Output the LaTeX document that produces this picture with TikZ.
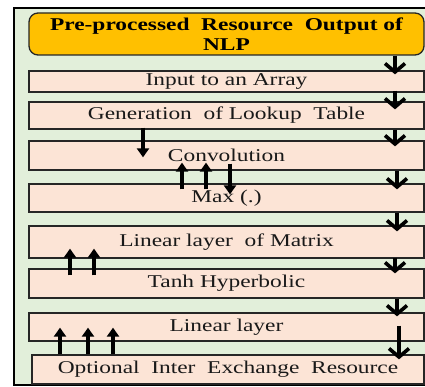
\documentclass[tikz,border=0pt]{standalone}
\usepackage{fontspec}
\setmainfont{Liberation Serif}[FakeStretch=1.3]
\usetikzlibrary{arrows.meta,calc}
\definecolor{panelgreen}{HTML}{E2EFDA}
\definecolor{boxpink}{HTML}{FCE4D6}
\definecolor{titlegold}{HTML}{FFC000}
\begin{document}
\begin{tikzpicture}[x=1pt,y=-1pt,
  box/.style={draw=black!85, line width=1.3pt, fill=boxpink, inner sep=0pt,
    minimum width=395pt, font=\fontsize{18}{20}\selectfont, text=black!90},
  flowarrow/.style={line width=3.4pt,
    -{Straight Barb[length=8.5pt,width=20pt,line width=3.6pt]}},
  linkarrow/.style={line width=3.5pt, -{Triangle[length=9pt,width=12pt]}},
]
\clip (0,0) rectangle (425,387);
% panel
\draw[line width=2.5pt, fill=panelgreen] (14,8) rectangle (445,385);

% title
\node[draw=black!85, line width=1.3pt, fill=titlegold, rounded corners=9pt,
  minimum width=395pt, minimum height=42pt, inner sep=0pt, align=center,
  font=\bfseries\fontsize{18}{20}\selectfont] (title) at (226.5,34)
  {Pre-processed\ \ Resource\ \ Output of\\NLP};

% processing stages
\node[box, minimum height=21pt] (b1) at (226.5,81.5) {Input to an Array};
\node[box, minimum height=27pt] (b2) at (226.5,115.5) {Generation\ \ of Lookup\ \ Table};
\node[box, minimum height=29pt] (b3) at (226.5,155.5) {Convolution};
\node[box, minimum height=28pt] (b4) at (226.5,198) {Max (.)};
\node[box, minimum height=32pt] (b5) at (226.5,242) {Linear layer\ \ of Matrix};
\node[box, minimum height=29pt] (b6) at (226.5,283.5) {Tanh Hyperbolic};
\node[box, minimum height=28pt] (b7) at (226.5,327) {Linear layer};
\node[box, minimum height=29pt, minimum width=392pt] (b8) at (228,369.5)
  {Optional\ \ Inter\ \ Exchange\ \ Resource};

% main flow on the right
\coordinate (ra) at (395,0);
\coordinate (rb) at (397,0);
\coordinate (rc) at (399,0);
\draw[flowarrow] (title.south -| ra) -- ($(b1.north -| ra)+(0,4)$);
\draw[flowarrow] ($(b1.south -| ra)+(0,-2)$) -- ($(b2.north -| ra)+(0,8)$);
\draw[flowarrow] (b2.south -| ra) -- ($(b3.north -| ra)+(0,6)$);
\draw[flowarrow] (b3.south -| rb) -- ($(b4.north -| rb)+(0,6)$);
\draw[flowarrow] (b4.south -| rb) -- ($(b5.north -| rb)+(0,6)$);
\draw[flowarrow] ($(b5.south -| ra)+(0,-1)$) -- ($(b6.north -| ra)+(0,5)$);
\draw[flowarrow] (b6.south -| rb) -- ($(b7.north -| rb)+(0,4)$);
\draw[flowarrow] ($(b7.south -| rc)+(0,-16)$) -- ($(b8.north -| rc)+(0,5)$);

% links between stages
\draw[linkarrow] ($(b2.south)+(-83.5,-2)$) -- ($(b3.north)+(-83.5,17)$);
\draw[linkarrow] ($(b4.north)+(-44.5,6)$) -- ($(b3.south)+(-44.5,-8)$);
\draw[linkarrow] ($(b4.north)+(-20.5,6)$) -- ($(b3.south)+(-20.5,-8)$);
\draw[linkarrow] ($(b3.south)+(3.5,-7)$) -- ($(b4.north)+(3.5,11)$);
\draw[linkarrow] ($(b6.north)+(-156.5,7)$) -- ($(b5.south)+(-156.5,-10)$);
\draw[linkarrow] ($(b6.north)+(-132.5,7)$) -- ($(b5.south)+(-132.5,-10)$);
\draw[linkarrow] ($(b8.north)+(-168,0)$) -- ($(b7.south)+(-166.5,-14)$);
\draw[linkarrow] ($(b8.north)+(-140,0)$) -- ($(b7.south)+(-138.5,-14)$);
\draw[linkarrow] ($(b8.north)+(-115,0)$) -- ($(b7.south)+(-113.5,-14)$);
\end{tikzpicture}
\end{document}
